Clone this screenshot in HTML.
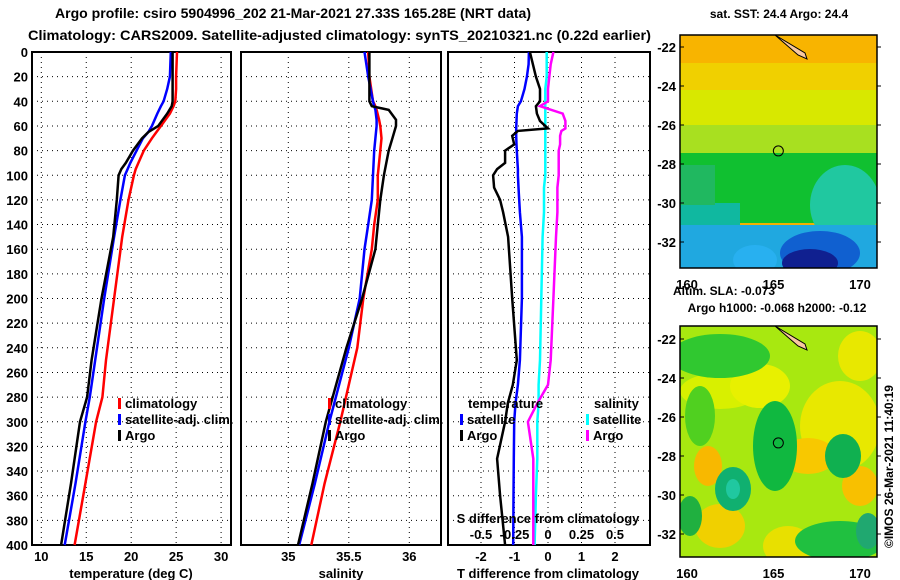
<!DOCTYPE html>
<html><head><meta charset="utf-8"><style>
body{margin:0;background:#fff;}
svg{display:block;font-family:"Liberation Sans",sans-serif;font-weight:bold;}
</style></head><body>
<svg id="c" width="900" height="580" viewBox="0 0 900 580" xmlns="http://www.w3.org/2000/svg">
<text x="55" y="18" font-size="14" textLength="476" lengthAdjust="spacingAndGlyphs">Argo profile: csiro 5904996_202 21-Mar-2021 27.33S 165.28E (NRT data)</text>
<text x="28" y="40" font-size="14" textLength="623" lengthAdjust="spacingAndGlyphs">Climatology: CARS2009. Satellite-adjusted climatology: synTS_20210321.nc (0.22d earlier)</text>
<g id="g"></g>
</svg>
<script>
// depths (m)
const tDepth=[0,20,30,40,44,50,60,65,70,80,90,95,100,120,150,200,250,280,300,350,400];
const tClim=[25.1,25.0,25.0,24.9,24.7,24.3,23.3,22.8,22.3,21.4,20.8,20.5,20.3,19.7,19.0,18.1,17.2,16.8,16.1,14.9,13.7];
const tSat=[24.4,24.3,24.0,23.6,23.3,22.9,22.3,21.9,21.3,20.6,19.9,19.6,19.3,18.8,18.1,17.0,16.0,15.4,14.9,13.8,12.6];
const tArgo=[24.6,24.6,24.6,24.6,24.5,24.0,23.0,21.9,21.2,20.2,19.4,18.9,18.6,18.4,18.0,16.7,15.6,15.1,14.3,13.3,12.2];
const sDepth=[0,20,40,44,47,55,60,70,80,100,120,140,160,200,240,300,350,400];
const sClim=[35.66,35.67,35.70,35.72,35.73,35.75,35.76,35.77,35.76,35.74,35.74,35.71,35.69,35.62,35.57,35.43,35.30,35.19];
const sSat=[35.63,35.66,35.70,35.71,35.72,35.73,35.73,35.72,35.71,35.70,35.69,35.66,35.63,35.59,35.50,35.34,35.22,35.09];
const sArgo=[35.67,35.67,35.67,35.69,35.83,35.89,35.89,35.86,35.83,35.79,35.76,35.74,35.72,35.61,35.48,35.31,35.20,35.08];
const dDepth=[0,10,20,30,40,44,50,56,62,64,68,75,80,90,95,100,110,120,130,150,200,250,270,285,300,330,360,400];
const dTArgo=[-0.54,-0.45,-0.36,-0.24,-0.24,-0.36,-0.33,-0.24,0.0,-0.9,-1.07,-1.01,-1.28,-1.28,-1.52,-1.64,-1.61,-1.43,-1.34,-1.19,-1.07,-0.93,-1.05,-1.2,-1.28,-1.52,-1.43,-1.28];
const dTSat=[-0.57,-0.58,-0.63,-0.70,-0.81,-0.90,-0.93,-0.94,-0.95,-0.95,-0.95,-0.94,-0.93,-0.91,-0.90,-0.90,-0.88,-0.86,-0.84,-0.78,-0.78,-0.84,-0.9,-0.97,-1.01,-1.02,-1.03,-1.04];
const dSSat=[-0.01,-0.01,-0.01,-0.02,-0.02,-0.02,-0.02,-0.02,-0.02,-0.02,-0.02,-0.02,-0.02,-0.02,-0.02,-0.02,-0.03,-0.03,-0.03,-0.04,-0.05,-0.06,-0.07,-0.07,-0.08,-0.08,-0.09,-0.10];
const dSArgo=[0.04,0.02,0.01,0.0,0.0,-0.06,0.11,0.13,0.13,0.10,0.09,0.09,0.08,0.08,0.08,0.08,0.07,0.07,0.07,0.06,0.04,0.02,0.0,-0.08,-0.15,-0.11,-0.11,-0.11];
const depthTicks=[0,20,40,60,80,100,120,140,160,180,200,220,240,260,280,300,320,340,360,380,400];
const tTicks=[10,15,20,25,30];
const sTicks=[35,35.5,36];
const sTickLabels=["35","35.5","36"];
const dTTicks=[-2,-1,0,1,2];
const dSTicks=[-0.5,-0.25,0,0.25,0.5];
const dSTickLabels=["-0.5","-0.25","0","0.25","0.5"];

const NS="http://www.w3.org/2000/svg";
const G=document.getElementById('g');
function mk(tag,attrs,parent){const e=document.createElementNS(NS,tag);for(const k in attrs)e.setAttribute(k,attrs[k]);(parent||G).appendChild(e);return e;}
const Y0=52,Y1=545;
const yD=d=>Y0+(Y1-Y0)*d/400;
const xT=t=>41.3+(t-10)*8.99;
const xS=s=>288.3+(s-35)*121;
const xDT=d=>548+d*33.5;
const xDS=d=>548+d*134;

function panel(x0,x1,name){
  const r=mk('rect',{x:x0,y:Y0,width:x1-x0,height:Y1-Y0,fill:'none',stroke:'#000','stroke-width':2});
  
  
  depthTicks.forEach(d=>{ if(d>0&&d<400){const l=mk('line',{x1:x0,x2:x1,y1:yD(d),y2:yD(d),stroke:'#000','stroke-dasharray':'1 4'});
  
  }});
}
function vgrid(xs,f){xs.forEach(v=>{const l=mk('line',{x1:f(v),x2:f(v),y1:Y0,y2:Y1,stroke:'#000','stroke-dasharray':'1 4'});
  
  });}
function line(ds,vs,f,col,name){
  let p='';ds.forEach((d,i)=>{p+=(i?'L':'M')+f(vs[i]).toFixed(1)+' '+yD(d).toFixed(1);});
  const e=mk('path',{d:p,fill:'none',stroke:col,'stroke-width':2.5});
  
  
}
function txt(x,y,s,size,anchor,name,fill){const e=mk('text',{x:x,y:y,'font-size':size,'text-anchor':anchor||'start',fill:fill||'#000'});e.textContent=s;
  
  return e;}

// panel 1
panel(32,231,'temperature-panel');
vgrid(tTicks,xT);
depthTicks.forEach(d=>txt(28,yD(d)+5,String(d),13,'end','depth-tick-label'));
tTicks.forEach(t=>txt(xT(t),561,String(t),13,'middle','temperature-tick-label'));
txt(131,578,'temperature (deg C)',13,'middle','temperature-axis-title');
line(tDepth,tClim,xT,'#f00','temperature-climatology-line');
line(tDepth,tSat,xT,'#00f','temperature-satellite-line');
line(tDepth,tArgo,xT,'#000','temperature-argo-line');
// panel 2
panel(241,441,'salinity-panel');
vgrid(sTicks,xS);
sTicks.forEach((s,i)=>txt(xS(s),561,sTickLabels[i],13,'middle','salinity-tick-label'));
txt(341,578,'salinity',13,'middle','salinity-axis-title');
line(sDepth,sClim,xS,'#f00','salinity-climatology-line');
line(sDepth,sSat,xS,'#00f','salinity-satellite-line');
line(sDepth,sArgo,xS,'#000','salinity-argo-line');
// panel 3
panel(448,650,'difference-panel');
vgrid(dTTicks,xDT);
dTTicks.forEach(t=>txt(xDT(t),561,String(t),13,'middle','t-diff-tick-label'));
txt(548,578,'T difference from climatology',13,'middle','t-diff-axis-title');
line(dDepth,dSSat,xDS,'#0ff','s-diff-satellite-line');
line(dDepth,dSArgo,xDS,'#f0f','s-diff-argo-line');
line(dDepth,dTSat,xDT,'#00f','t-diff-satellite-line');
line(dDepth,dTArgo,xDT,'#000','t-diff-argo-line');
txt(548,523,'S difference from climatology',13,'middle','s-diff-axis-title');
dSTicks.forEach((s,i)=>txt(xDS(s),539,dSTickLabels[i],13,'middle','s-diff-tick-label'));

// legends
function leg(x,y,col,label,name){
  const m=mk('rect',{x:x,y:y-10,width:3,height:11,fill:col});
  
  
  txt(x+7,y,label,13,'start',name);
}
leg(118,408,'#f00','climatology','legend-climatology');
leg(118,424,'#00f','satellite-adj. clim.','legend-satellite');
leg(118,440,'#000','Argo','legend-argo');
leg(328,408,'#f00','climatology','legend2-climatology');
leg(328,424,'#00f','satellite-adj. clim.','legend2-satellite');
leg(328,440,'#000','Argo','legend2-argo');
txt(468,408,'temperature',13,'start','legend-temperature-header');
leg(460,424,'#00f','satellite','legend-t-satellite');
leg(460,440,'#000','Argo','legend-t-argo');
txt(594,408,'salinity',13,'start','legend-salinity-header');
leg(586,424,'#0ff','satellite','legend-s-satellite');
leg(586,440,'#f0f','Argo','legend-s-argo');

// maps
const mapLat=[-22,-24,-26,-28,-30,-32];
const mapLon=[160,165,170];
function map(y0,y1,latTop,title,name,blobs,base){
  const x0=680,x1=877;
  const xL=l=>687+(l-160)*17.3;
  const yL=l=>latTop+(-22-l)*19.5;
  const cp=mk('clipPath',{id:name+'-clip'});mk('rect',{x:x0,y:y0,width:x1-x0,height:y1-y0},cp);
  const g=mk('g',{'clip-path':'url(#'+name+'-clip)'});
  
  
  mk('rect',{x:x0,y:y0,width:x1-x0,height:y1-y0,fill:base},g);
  blobs.forEach(b=>mk(b[0]==='r'?'rect':'ellipse',b[0]==='r'?{x:b[1],y:y0+b[2],width:b[3],height:b[4],fill:b[5]}:{cx:b[1],cy:y0+b[2],rx:b[3],ry:b[4],fill:b[5]},g));
  mk('path',{d:`M${x0+95} ${y0} L${x0+125} ${y0+18} L${x0+127} ${y0+24} L${x0+118} ${y0+20} Z`,fill:'#f8c8a0',stroke:'#000','stroke-width':1},g);
  mk('rect',{x:x0,y:y0,width:x1-x0,height:y1-y0,fill:'none',stroke:'#000','stroke-width':1.5});
  const c=mk('circle',{cx:xL(165.28),cy:yL(-27.33),r:5,fill:'none',stroke:'#000'});
  
  
  mapLat.forEach(l=>{txt(676,yL(l)+5,String(l),13,'end',name+'-lat-label');
    mk('line',{x1:x0,x2:x0+4,y1:yL(l),y2:yL(l),stroke:'#000'});mk('line',{x1:x1,x2:x1+4,y1:yL(l),y2:yL(l),stroke:'#000'});});
  mapLon.forEach(l=>txt(xL(l),y1+21,String(l),13,'middle',name+'-lon-label'));
  title.forEach((t,i)=>txt(t[0],t[1],t[2],12,'middle',name+'-title-'+i));
}
map(35,268,47,[[779,18,'sat. SST: 24.4 Argo: 24.4']],'sst-map',[
 ['r',680,0,197,30,'#f8b400'],['r',680,28,197,30,'#f0d000'],['r',680,55,197,40,'#d8e800'],['r',680,90,197,35,'#a8e020'],
 ['r',680,118,197,70,'#10c030'],['e',845,170,35,40,'#20c8a0'],['r',680,168,60,65,'#10b8a0'],
 ['r',680,190,197,45,'#20a8e0'],['e',820,218,40,22,'#1060d0'],['e',810,228,28,14,'#102090'],['e',755,225,22,15,'#28b0f0'],['r',680,130,35,40,'#20b860']
],'#f4b000');
map(326,557,339,[[724,295,'Altim. SLA: -0.073'],[777,312,'Argo h1000: -0.068 h2000: -0.12']],'sla-map',[
 ['e',720,65,40,18,'#d8f000'],['e',760,60,30,22,'#e8f000'],['e',840,100,40,45,'#e8e800'],['e',808,130,28,18,'#f8c800'],
 ['e',708,140,14,20,'#f8b800'],['e',860,160,18,20,'#f8c000'],['e',720,200,25,22,'#f0d000'],['e',788,220,25,20,'#e8e000'],
 ['e',840,215,45,20,'#20c040'],['e',733,163,18,22,'#10b070'],['e',733,163,7,10,'#20c8a0'],['e',843,130,18,22,'#10b050'],
 ['e',775,120,22,45,'#10b840'],['e',720,30,50,22,'#30c830'],['e',860,30,22,25,'#e8e800'],['e',700,90,15,30,'#50d020'],
 ['e',690,190,12,20,'#20b040'],['e',868,205,12,18,'#20a870']
],'#a8e810');
txt(0,0,'©IMOS 26-Mar-2021 11:40:19',12,'start','imos-timestamp').setAttribute('transform','translate(893,548) rotate(-90)');
</script>
</body></html>
